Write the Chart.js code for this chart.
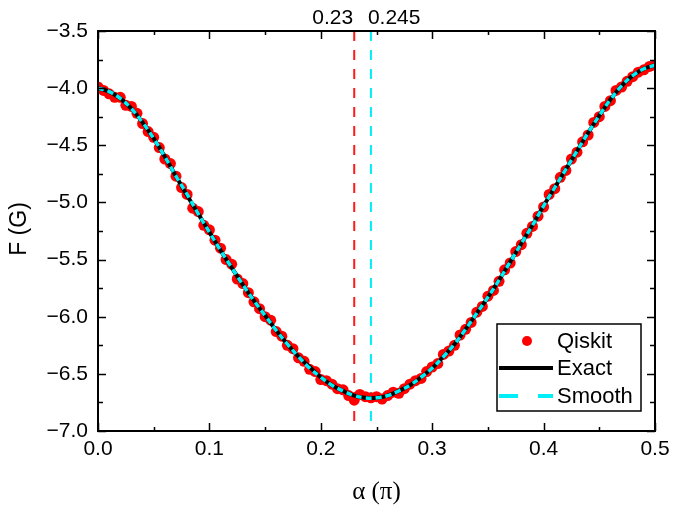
<!DOCTYPE html>
<html>
<head>
<meta charset="utf-8">
<script src="https://cdn.jsdelivr.net/npm/chart.js@4.4.1/dist/chart.umd.min.js"></script>
<style>
    html, body { margin: 0; padding: 0; background: #fff; }
    #wrap { width: 696px; height: 506px; }
</style>
</head>
<body>
<div id="wrap"><canvas id="chart" width="696" height="506"></canvas></div>
<script>
// --- DATOS ---
// Exact / Smooth leídos cada 0.01 de alfa
const alphaGrid = [0.00,0.01,0.02,0.03,0.04,0.05,0.06,0.07,0.08,0.09,0.10,0.11,0.12,0.13,0.14,0.15,0.16,0.17,0.18,0.19,0.20,0.21,0.22,0.23,0.24,0.25,0.26,0.27,0.28,0.29,0.30,0.31,0.32,0.33,0.34,0.35,0.36,0.37,0.38,0.39,0.40,0.41,0.42,0.43,0.44,0.45,0.46,0.47,0.48,0.49,0.50];
const exactY = [-4.00,-4.03,-4.09,-4.18,-4.30,-4.44,-4.60,-4.77,-4.94,-5.10,-5.26,-5.42,-5.57,-5.72,-5.86,-5.99,-6.12,-6.24,-6.35,-6.44,-6.53,-6.60,-6.65,-6.69,-6.71,-6.71,-6.69,-6.65,-6.60,-6.53,-6.45,-6.35,-6.24,-6.11,-5.97,-5.83,-5.68,-5.52,-5.36,-5.20,-5.03,-4.87,-4.71,-4.55,-4.39,-4.24,-4.10,-3.98,-3.89,-3.83,-3.80];
const smoothY = [-4.00,-4.03,-4.09,-4.18,-4.30,-4.44,-4.60,-4.77,-4.93,-5.10,-5.26,-5.42,-5.57,-5.72,-5.86,-5.99,-6.12,-6.24,-6.35,-6.45,-6.53,-6.60,-6.65,-6.69,-6.71,-6.71,-6.69,-6.65,-6.60,-6.53,-6.45,-6.35,-6.24,-6.11,-5.97,-5.83,-5.68,-5.52,-5.36,-5.20,-5.03,-4.87,-4.71,-4.55,-4.39,-4.24,-4.10,-3.98,-3.89,-3.83,-3.80];

// Qiskit cada 0.005
const qiskitAlpha = [0.000,0.005,0.010,0.015,0.020,0.025,0.030,0.035,0.040,0.045,0.050,0.055,0.060,0.065,0.070,0.075,0.080,0.085,0.090,0.095,0.100,0.105,0.110,0.115,0.120,0.125,0.130,0.135,0.140,0.145,0.150,0.155,0.160,0.165,0.170,0.175,0.180,0.185,0.190,0.195,0.200,0.205,0.210,0.215,0.220,0.225,0.230,0.235,0.240,0.245,0.250,0.255,0.260,0.265,0.270,0.275,0.280,0.285,0.290,0.295,0.300,0.305,0.310,0.315,0.320,0.325,0.330,0.335,0.340,0.345,0.350,0.355,0.360,0.365,0.370,0.375,0.380,0.385,0.390,0.395,0.400,0.405,0.410,0.415,0.420,0.425,0.430,0.435,0.440,0.445,0.450,0.455,0.460,0.465,0.470,0.475,0.480,0.485,0.490,0.495,0.500];
const qiskitY = [-3.99,-4.02,-4.05,-4.08,-4.08,-4.15,-4.16,-4.22,-4.31,-4.38,-4.43,-4.52,-4.62,-4.66,-4.77,-4.87,-4.93,-5.05,-5.08,-5.20,-5.24,-5.33,-5.40,-5.50,-5.54,-5.67,-5.71,-5.79,-5.87,-5.93,-6.00,-6.03,-6.13,-6.17,-6.25,-6.28,-6.36,-6.39,-6.46,-6.48,-6.55,-6.56,-6.59,-6.63,-6.64,-6.69,-6.73,-6.68,-6.70,-6.71,-6.70,-6.72,-6.69,-6.66,-6.67,-6.63,-6.59,-6.56,-6.54,-6.48,-6.44,-6.41,-6.33,-6.30,-6.25,-6.16,-6.11,-6.05,-5.96,-5.91,-5.82,-5.77,-5.69,-5.59,-5.53,-5.43,-5.37,-5.27,-5.21,-5.12,-5.04,-4.93,-4.88,-4.78,-4.72,-4.62,-4.56,-4.47,-4.41,-4.30,-4.25,-4.16,-4.11,-4.02,-3.99,-3.94,-3.90,-3.86,-3.84,-3.81,-3.80];

// Líneas verticales marcadas
const markAlpha = [0.23, 0.245];
const markLabels = ['0.23', '0.245'];

// Ticks
const xMajor = [0, 0.1, 0.2, 0.3, 0.4, 0.5];
const xMinor = [0.05, 0.15, 0.25, 0.35, 0.45];
const yMajor = [-7, -6.5, -6, -5.5, -5, -4.5, -4, -3.5];
const yMinor = [-6.75, -6.25, -5.75, -5.25, -4.75, -4.25, -3.75];

const FONT = '"Liberation Sans", Arial, sans-serif';
const CYAN = '#00EEF6';

const toPts = (xs, ys) => xs.map((x, i) => ({ x: x, y: ys[i] }));

// --- PLUGIN: marco, ticks internos, etiquetas y leyenda ---
const framePlugin = {
    id: 'frame',
    afterDatasetsDraw(chart) {
        const { ctx, chartArea: a, scales: { x, y } } = chart;
        ctx.save();
        ctx.strokeStyle = '#000';
        ctx.lineWidth = 2;
        ctx.strokeRect(a.left, a.top, a.right - a.left, a.bottom - a.top);

        ctx.lineWidth = 1.5;
        ctx.beginPath();
        const xt = (list, len) => list.forEach(v => {
            const px = Math.round(x.getPixelForValue(v)) + 0.5;
            ctx.moveTo(px, a.bottom); ctx.lineTo(px, a.bottom - len);
            ctx.moveTo(px, a.top); ctx.lineTo(px, a.top + len);
        });
        const yt = (list, len) => list.forEach(v => {
            const py = Math.round(y.getPixelForValue(v)) + 0.5;
            ctx.moveTo(a.left, py); ctx.lineTo(a.left + len, py);
            ctx.moveTo(a.right, py); ctx.lineTo(a.right - len, py);
        });
        xt(xMajor, 8); xt(xMinor, 4);
        yt(yMajor, 8); yt(yMinor, 5);
        ctx.stroke();

        // etiquetas de las marcas
        ctx.fillStyle = '#000';
        ctx.font = '21px ' + FONT;
        ctx.textBaseline = 'alphabetic';
        ctx.textAlign = 'right';
        ctx.fillText(markLabels[0], x.getPixelForValue(markAlpha[0]) - 1, 24);
        ctx.textAlign = 'left';
        ctx.fillText(markLabels[1], x.getPixelForValue(markAlpha[1]) - 3, 24);

        // títulos de ejes
        ctx.textAlign = 'center';
        ctx.textBaseline = 'middle';
        ctx.font = '25px "Liberation Serif", "Times New Roman", serif';
        ctx.fillText('\u03B1 (\u03C0)', (a.left + a.right) / 2, 492);
        ctx.save();
        ctx.translate(20, 229);
        ctx.rotate(-Math.PI / 2);
        ctx.font = '23px ' + FONT;
        ctx.fillText('F (G)', 0, 0);
        ctx.restore();

        // leyenda
        ctx.lineWidth = 1.5;
        ctx.strokeStyle = '#000';
        ctx.strokeRect(497, 324, 144, 87);
        ctx.fillStyle = '#ff0000';
        ctx.beginPath();
        ctx.arc(527, 341, 5, 0, Math.PI * 2);
        ctx.fill();
        ctx.lineWidth = 4;
        ctx.beginPath();
        ctx.moveTo(499, 368); ctx.lineTo(553, 368);
        ctx.stroke();
        ctx.strokeStyle = CYAN;
        ctx.beginPath();
        ctx.moveTo(499, 396); ctx.lineTo(518, 396);
        ctx.moveTo(538, 396); ctx.lineTo(553, 396);
        ctx.stroke();
        ctx.fillStyle = '#000';
        ctx.font = '22px ' + FONT;
        ctx.textAlign = 'left';
        ctx.fillText('Qiskit', 557, 342);
        ctx.fillText('Exact', 557, 369);
        ctx.fillText('Smooth', 557, 397);
        ctx.restore();
    }
};

// --- GRÁFICO ---
new Chart(document.getElementById('chart'), {
    type: 'line',
    data: {
        datasets: [
            { label: 'Smooth', data: toPts(alphaGrid, smoothY), borderColor: CYAN, borderWidth: 3.5, borderDash: [6, 4], pointRadius: 0, tension: 0.4, order: 0 },
            { label: 'Exact', data: toPts(alphaGrid, exactY), borderColor: '#000', borderWidth: 4, pointRadius: 0, tension: 0.4, order: 1 },
            { label: 'Qiskit', data: toPts(qiskitAlpha, qiskitY), showLine: false, pointRadius: 5.5, pointBackgroundColor: '#ff0000', pointBorderWidth: 0, borderColor: '#ff0000', order: 2 },
            { label: 'm1', data: [{ x: markAlpha[0], y: -3.5 }, { x: markAlpha[0], y: -7 }], borderColor: '#ff1a1a', borderWidth: 2, borderDash: [10, 9], pointRadius: 0, order: 3 },
            { label: 'm2', data: [{ x: markAlpha[1], y: -3.5 }, { x: markAlpha[1], y: -7 }], borderColor: CYAN, borderWidth: 2, borderDash: [10, 9], pointRadius: 0, order: 3 }
        ]
    },
    options: {
        responsive: false,
        devicePixelRatio: 1,
        animation: false,
        layout: { padding: { top: 31, right: 41, left: 0, bottom: 0 } },
        plugins: { legend: { display: false }, tooltip: { enabled: false } },
        scales: {
            x: {
                type: 'linear', min: 0, max: 0.5,
                grid: { display: false, drawTicks: false },
                border: { display: false },
                ticks: { stepSize: 0.1, padding: 6, color: '#000', font: { family: FONT, size: 21 }, maxRotation: 0,
                    callback: v => v.toFixed(1) },
                afterFit: s => { s.height = 75; }
            },
            y: {
                type: 'linear', min: -7, max: -3.5,
                grid: { display: false, drawTicks: false },
                border: { display: false },
                ticks: { stepSize: 0.5, padding: 10, color: '#000', font: { family: FONT, size: 21 },
                    callback: v => (v < 0 ? '\u2212' : '') + Math.abs(v).toFixed(1) },
                afterFit: s => { s.width = 98; }
            }
        }
    },
    plugins: [framePlugin]
});
</script>
</body>
</html>
